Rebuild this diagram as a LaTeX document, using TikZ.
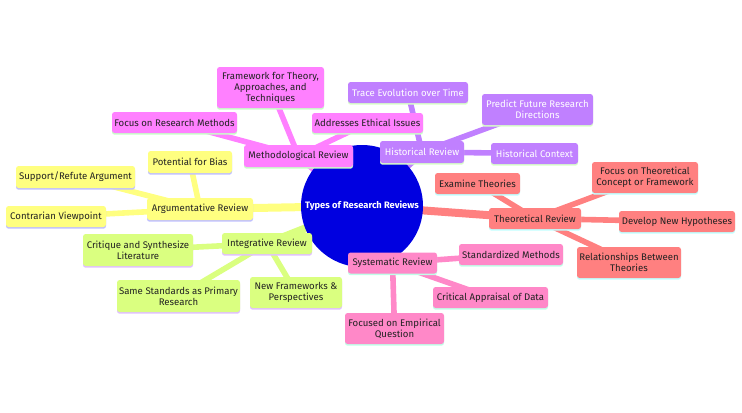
\documentclass[tikz,border=0pt]{standalone}
\usepackage{fontspec}
\setmainfont{Fira Sans}
\usetikzlibrary{backgrounds}
\definecolor{cMag}{HTML}{FF80FF}
\definecolor{cMagB}{HTML}{C8FFC8}
\definecolor{cPur}{HTML}{C080FF}
\definecolor{cPurB}{HTML}{D8FFC8}
\definecolor{cSal}{HTML}{FF8080}
\definecolor{cSalB}{HTML}{C0FFFF}
\definecolor{cPnk}{HTML}{FF88C8}
\definecolor{cPnkB}{HTML}{C0FFE8}
\definecolor{cYel}{HTML}{FFFF80}
\definecolor{cYelB}{HTML}{C0C0FF}
\definecolor{cGrn}{HTML}{DAFF80}
\definecolor{cGrnB}{HTML}{E0C0FF}
\definecolor{cRoot}{HTML}{0000E0}
\definecolor{cTxt}{HTML}{222222}
\tikzset{
  box/.style={rounded corners=2pt, inner sep=1pt, align=center,
    font=\fontsize{7.2}{8.2}\selectfont, text=cTxt},
  bmag/.style={box, fill=cMag, preaction={fill=cMagB, transform canvas={yshift=-1.3pt}}},
  bpur/.style={box, fill=cPur, text=white, preaction={fill=cPurB, transform canvas={yshift=-1.3pt}}},
  bsal/.style={box, fill=cSal, preaction={fill=cSalB, transform canvas={yshift=-1.3pt}}},
  bpnk/.style={box, fill=cPnk, preaction={fill=cPnkB, transform canvas={yshift=-1.3pt}}},
  byel/.style={box, fill=cYel, preaction={fill=cYelB, transform canvas={yshift=-1.3pt}}},
  bgrn/.style={box, fill=cGrn, preaction={fill=cGrnB, transform canvas={yshift=-1.3pt}}},
  rootnode/.style={circle, fill=cRoot, text=white, inner sep=0pt,
    font=\fontsize{7}{8.2}\selectfont\bfseries},
  medge/.style={line width=6pt},
  ledge/.style={line width=4.2pt},
}
\newcommand\mmnode[7]{\node[#2, minimum width=#5*0.75pt, minimum height=#6*0.75pt] (#1) at (#3,#4) {#7};}
\begin{document}
\begin{tikzpicture}[x=0.75pt,y=-0.75pt]
\useasboundingbox (0,0) rectangle (742,412);
\node[rootnode, minimum size=122*0.75pt] (root) at (362,206) {Types of Research Reviews};
% Methodological
\mmnode{meth}{bmag}{298.5}{156}{109}{22}{Methodological Review}
\mmnode{meth1}{bmag}{174.5}{122.5}{125}{21}{Focus on Research Methods}
\mmnode{meth2}{bmag}{270.5}{87.5}{107}{41}{Framework for Theory,\\Approaches, and\\Techniques}
\mmnode{meth3}{bmag}{367.5}{123}{111}{20}{Addresses Ethical Issues}
% Historical
\mmnode{hist}{bpur}{422}{152}{84}{22}{Historical Review}
\mmnode{hist1}{bpur}{408}{92.5}{120}{21}{Trace Evolution over Time}
\mmnode{hist2}{bpur}{537.5}{109.5}{111}{31}{Predict Future Research\\Directions}
\mmnode{hist3}{bpur}{534.5}{153.5}{87}{21}{Historical Context}
% Theoretical
\mmnode{theo}{bsal}{535}{218.5}{92}{21}{Theoretical Review}
\mmnode{theo1}{bsal}{477.5}{183.5}{85}{21}{Examine Theories}
\mmnode{theo2}{bsal}{645}{177.5}{106}{31}{Focus on Theoretical\\Concept or Framework}
\mmnode{theo3}{bsal}{677}{221.5}{116}{21}{Develop New Hypotheses}
\mmnode{theo4}{bsal}{629}{262.5}{104}{31}{Relationships Between\\Theories}
% Systematic
\mmnode{syst}{bpnk}{392.5}{263}{89}{21}{Systematic Review}
\mmnode{syst1}{bpnk}{511}{254.5}{104}{21}{Standardized Methods}
\mmnode{syst2}{bpnk}{490.5}{297.5}{115}{21}{Critical Appraisal of Data}
\mmnode{syst3}{bpnk}{394.5}{328.5}{99}{31}{Focused on Empirical\\Question}
% Argumentative
\mmnode{argu}{byel}{200}{209}{106}{22}{Argumentative Review}
\mmnode{argu1}{byel}{190}{162}{84}{22}{Potential for Bias}
\mmnode{argu2}{byel}{75.5}{177}{119}{22}{Support/Refute Argument}
\mmnode{argu3}{byel}{56}{216.5}{100}{21}{Contrarian Viewpoint}
% Integrative
\mmnode{inte}{bgrn}{267}{243.5}{90}{21}{Integrative Review}
\mmnode{inte1}{bgrn}{138}{250}{110}{32}{Critique and Synthesize\\Literature}
\mmnode{inte2}{bgrn}{178.5}{296}{123}{32}{Same Standards as Primary\\Research}
\mmnode{inte3}{bgrn}{296}{292.5}{92}{31}{New Frameworks \&\\Perspectives}
\begin{pgfonlayer}{background}
\draw[medge, cMag] (root.center) -- (meth.center);
\draw[medge, cPur] (root.center) -- (hist.center);
\draw[medge, cSal] (root.center) -- (theo.center);
\draw[medge, cPnk] (root.center) -- (syst.center);
\draw[medge, cYel] (root.center) -- (argu.center);
\draw[medge, cGrn] (root.center) -- (inte.center);
\draw[ledge, cMag] (meth.center) -- (meth1.center);
\draw[ledge, cMag] (meth.center) -- (meth2.center);
\draw[ledge, cMag] (meth.center) -- (meth3.center);
\draw[ledge, cPur] (hist.center) -- (hist1.center);
\draw[ledge, cPur] (hist.center) -- (hist2.center);
\draw[ledge, cPur] (hist.center) -- (hist3.center);
\draw[ledge, cSal] (theo.center) -- (theo1.center);
\draw[ledge, cSal] (theo.center) -- (theo2.center);
\draw[ledge, cSal] (theo.center) -- (theo3.center);
\draw[ledge, cSal] (theo.center) -- (theo4.center);
\draw[ledge, cPnk] (syst.center) -- (syst1.center);
\draw[ledge, cPnk] (syst.center) -- (syst2.center);
\draw[ledge, cPnk] (syst.center) -- (syst3.center);
\draw[ledge, cYel] (argu.center) -- (argu1.center);
\draw[ledge, cYel] (argu.center) -- (argu2.center);
\draw[ledge, cYel] (argu.center) -- (argu3.center);
\draw[ledge, cGrn] (inte.center) -- (inte1.center);
\draw[ledge, cGrn] (inte.center) -- (inte2.center);
\draw[ledge, cGrn] (inte.center) -- (inte3.center);
\end{pgfonlayer}
\end{tikzpicture}
\end{document}
